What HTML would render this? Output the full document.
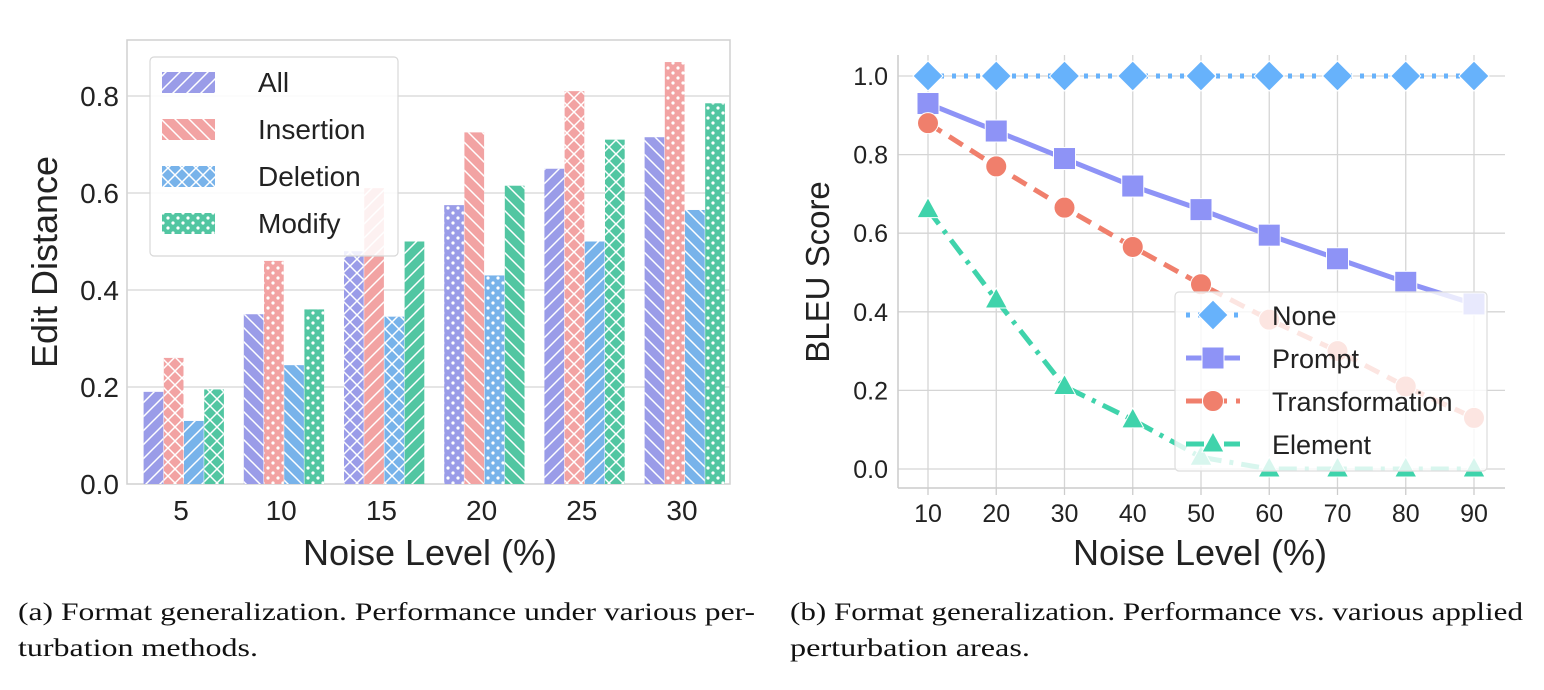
<!DOCTYPE html>
<html><head><meta charset="utf-8"><style>
body{margin:0;background:#fff;width:1544px;height:690px;overflow:hidden}
svg{position:absolute;left:0;top:0}
</style></head><body>
<svg id="s" width="1544" height="690" xmlns="http://www.w3.org/2000/svg">
<defs>
<pattern id="h0" width="14" height="14" patternUnits="userSpaceOnUse"><path d="M-2,16 L16,-2 M-9,9 L9,-9 M5,23 L23,5" stroke="#fff" stroke-width="1.5"/></pattern>
<pattern id="h1" width="14" height="14" patternUnits="userSpaceOnUse"><path d="M-2,-2 L16,16 M-9,5 L9,23 M5,-9 L23,9" stroke="#fff" stroke-width="1.5"/></pattern>
<pattern id="h2" width="14" height="14" patternUnits="userSpaceOnUse"><path d="M-2,16 L16,-2 M-2,-2 L16,16" stroke="#fff" stroke-width="1.5"/></pattern>
<pattern id="h3" width="10" height="10" patternUnits="userSpaceOnUse"><circle cx="3" cy="3" r="1.6" fill="#fff"/><circle cx="8" cy="8" r="1.6" fill="#fff"/></pattern>
</defs>
<g id="left"></g>
<g id="right"></g>
<text x="18" y="620" textLength="737" lengthAdjust="spacingAndGlyphs" font-family="Liberation Serif, serif" font-size="25" fill="#111">(a) Format generalization. Performance under various per-</text>
<text x="18" y="656" textLength="240" lengthAdjust="spacingAndGlyphs" font-family="Liberation Serif, serif" font-size="25" fill="#111">turbation methods.</text>
<text x="790" y="620" textLength="733" lengthAdjust="spacingAndGlyphs" font-family="Liberation Serif, serif" font-size="25" fill="#111">(b) Format generalization. Performance vs. various applied</text>
<text x="790" y="656" textLength="240" lengthAdjust="spacingAndGlyphs" font-family="Liberation Serif, serif" font-size="25" fill="#111">perturbation areas.</text>
</svg>
<script>
// ---- bar chart data ----
const barCategories=["5","10","15","20","25","30"];
const barSeriesNames=["All","Insertion","Deletion","Modify"];
const allVals=[0.19,0.35,0.48,0.575,0.65,0.715];
const insertionVals=[0.26,0.46,0.61,0.725,0.81,0.87];
const deletionVals=[0.13,0.245,0.345,0.43,0.50,0.565];
const modifyVals=[0.195,0.36,0.50,0.615,0.71,0.785];
const barYTicks=[0.0,0.2,0.4,0.6,0.8];
// ---- line chart data ----
const lineX=[10,20,30,40,50,60,70,80,90];
const noneVals=[1,1,1,1,1,1,1,1,1];
const promptVals=[0.93,0.86,0.79,0.72,0.66,0.595,0.535,0.475,0.42];
const transVals=[0.88,0.77,0.665,0.565,0.47,0.38,0.30,0.21,0.13];
const elementVals=[0.66,0.43,0.21,0.125,0.03,0,0,0,0];
const lineYTicks=[0.0,0.2,0.4,0.6,0.8,1.0];
const lineNames=["None","Prompt","Transformation","Element"];

const NS="http://www.w3.org/2000/svg";
function mk(p,tag,at,txt){const e=document.createElementNS(NS,tag);for(const k in at)e.setAttribute(k,at[k]);if(txt!=null)e.textContent=txt;p.appendChild(e);return e;}
const F="Liberation Sans, Arial, sans-serif";

// ===== Left bar chart =====
const L=document.getElementById('left');
const lx0=127,lx1=730,ly0=40,ly1=484;
const yB=v=>ly1-v/0.8*388;
const gC=i=>184+i*100.2;
mk(L,'rect',{x:lx0,y:ly0,width:lx1-lx0,height:ly1-ly0,fill:'#fff',stroke:'#d0d0d0','stroke-width':1.5});
barYTicks.forEach(t=>{const y=yB(t);
 if(t>0){const gl=mk(L,'line',{x1:lx0,x2:lx1,y1:y,y2:y,stroke:'#d5d5d5','stroke-width':1.3});}
 const tl=mk(L,'text',{x:119,y:y+10,'text-anchor':'end','font-family':F,'font-size':28,fill:'#222'},t.toFixed(1));
 });
const colors=["#9a9ce8","#f2a3a3","#78b3ea","#52c6a2"];
const series=[allVals,insertionVals,deletionVals,modifyVals];
const bw=20.2;
series.forEach((vals,s)=>{vals.forEach((v,g)=>{
 const x=gC(g)-2*bw+s*bw,y=yB(v);
 const idx=s*6+g;
 const r=mk(L,'rect',{x:x,y:y,width:bw-0.5,height:ly1-y,fill:colors[s]});
 
 
 const h=mk(L,'rect',{x:x,y:y,width:bw-0.5,height:ly1-y,fill:'url(#h'+(idx%4)+')'});
 
});});
barCategories.forEach((c,g)=>{const t=mk(L,'text',{x:gC(g)-3,y:520,'text-anchor':'middle','font-family':F,'font-size':28,fill:'#222'},c);
 });
let t=mk(L,'text',{x:430,y:565,'text-anchor':'middle','font-family':F,'font-size':36,fill:'#222'},'Noise Level (%)');

t=mk(L,'text',{x:0,y:0,transform:'translate(57,262) rotate(-90)','text-anchor':'middle','font-family':F,'font-size':36,fill:'#222'},'Edit Distance');

// legend
const lg=mk(L,'g',{});

mk(lg,'rect',{x:150,y:57,width:248,height:199,rx:4,fill:'#fff','fill-opacity':0.85,stroke:'#d8d8d8','stroke-width':1.2});
barSeriesNames.forEach((n,s)=>{const y=72+s*47;
 const e=mk(lg,'g',{});
 mk(e,'rect',{x:162,y:y,width:53,height:21,fill:colors[s]});
 mk(e,'rect',{x:162,y:y,width:53,height:21,fill:'url(#h'+[0,1,2,3][s]+')'});
 mk(e,'text',{x:258,y:y+20,'font-family':F,'font-size':28,fill:'#222'},n);});

// ===== Right line chart =====
const R=document.getElementById('right');
const rx0=898,rx1=1505,ry0=55,ry1=488;
const xL=v=>928+(v-10)/80*546;
const yL=v=>469-v*393;
lineYTicks.forEach(tk=>{const y=yL(tk);
 const gl=mk(R,'line',{x1:rx0,x2:rx1,y1:y,y2:y,stroke:'#d5d5d5','stroke-width':1.3});
 const tl=mk(R,'text',{x:888,y:y+9,'text-anchor':'end','font-family':F,'font-size':25,fill:'#222'},tk.toFixed(1));
 });
lineX.forEach(v=>{const x=xL(v);
 const gl=mk(R,'line',{x1:x,x2:x,y1:ry0,y2:ry1,stroke:'#d5d5d5','stroke-width':1.3});
 mk(R,'line',{x1:x,x2:x,y1:ry1,y2:ry1+7,stroke:'#ccc','stroke-width':1.3});
 const tl=mk(R,'text',{x:x,y:522,'text-anchor':'middle','font-family':F,'font-size':25,fill:'#222'},String(v));
 });
mk(R,'line',{x1:rx0,x2:rx0,y1:ry0,y2:ry1,stroke:'#ccc','stroke-width':1.5});
mk(R,'line',{x1:rx0,x2:rx1,y1:ry1,y2:ry1,stroke:'#ccc','stroke-width':1.5});
t=mk(R,'text',{x:1200,y:565,'text-anchor':'middle','font-family':F,'font-size':36,fill:'#222'},'Noise Level (%)');

t=mk(R,'text',{x:0,y:0,transform:'translate(829,272) rotate(-90)','text-anchor':'middle','font-family':F,'font-size':33,fill:'#222'},'BLEU Score');

const lcol=["#67b2fb","#8e93f6","#f07f6c","#3fd3ab"];
const ldash=["4,8","","16,9","18,8,4,8"];
const lvals=[noneVals,promptVals,transVals,elementVals];
function marker(p,k,x,y,c){
 if(k===0) return mk(p,'path',{d:`M${x},${y-15} L${x+15},${y} L${x},${y+15} L${x-15},${y} Z`,fill:c,stroke:'#fff','stroke-width':1});
 if(k===1) return mk(p,'rect',{x:x-11,y:y-11,width:22,height:22,fill:c,stroke:'#fff','stroke-width':1});
 if(k===2) return mk(p,'circle',{cx:x,cy:y,r:10.5,fill:c,stroke:'#fff','stroke-width':1});
 return mk(p,'path',{d:`M${x},${y-12} L${x+11},${y+8} L${x-11},${y+8} Z`,fill:c,stroke:'#fff','stroke-width':1});
}
lvals.forEach((vals,k)=>{
 const g=mk(R,'g',{});
 const pts=vals.map((v,i)=>xL(lineX[i])+','+yL(v)).join(' ');
 const a={points:pts,fill:'none',stroke:lcol[k],'stroke-width':5};
 if(ldash[k])a['stroke-dasharray']=ldash[k];
 mk(g,'polyline',a);
 vals.forEach((v,i)=>{const m=marker(g,k,xL(lineX[i]),yL(v),lcol[k]);
  });
});
const lg2=mk(R,'g',{});
mk(lg2,'rect',{x:1175,y:292,width:312,height:179,rx:4,fill:'#fff','fill-opacity':0.8,stroke:'#ddd','stroke-width':1.2});
lineNames.forEach((n,k)=>{const y=315+k*43;
 const e=mk(lg2,'g',{});
 const a={x1:1186,x2:1240,y1:y,y2:y,stroke:lcol[k],'stroke-width':5};if(ldash[k])a['stroke-dasharray']=ldash[k];
 mk(e,'line',a);marker(e,k,1213,y,lcol[k]);
 mk(e,'text',{x:1272,y:y+10,'font-family':F,'font-size':27,fill:'#222'},n);});
</script>
</body></html>
